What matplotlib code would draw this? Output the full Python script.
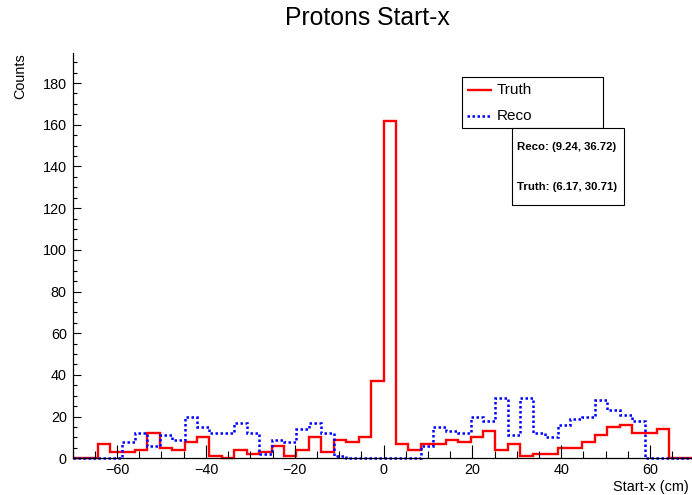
import matplotlib
matplotlib.use("Agg")
import matplotlib.pyplot as plt
import numpy as np
from matplotlib.lines import Line2D
from matplotlib.patches import Rectangle
from matplotlib.ticker import MultipleLocator

plt.rcParams['font.family'] = ['Liberation Sans', 'DejaVu Sans']

# Binning: 50 bins of 2.8 cm between -70 and 70 cm
x_lo, x_hi, n_bins = -70.0, 70.0, 50
edges = np.linspace(x_lo, x_hi, n_bins + 1)

truth_counts = [0, 0, 7, 3, 3, 4, 12, 5, 4, 8, 10, 1, 0, 4, 2, 3, 6, 1, 4, 10, 3, 9, 8, 10, 37,
                162, 7, 4, 7, 7, 9, 8, 10, 13, 4, 7, 1, 2, 2, 5, 5, 8, 11, 15, 16, 12, 12, 14, 0, 0]
reco_counts = [0, 0, 0, 0, 8, 12, 6, 11, 9, 20, 15, 12, 12, 17, 12, 2, 9, 8, 14, 17, 12, 1, 0, 0, 0,
               0, 0, 0, 6, 15, 13, 12, 20, 18, 29, 11, 29, 12, 10, 16, 19, 20, 28, 23, 21, 18, 0, 0, 0, 0]

legend_labels = ['Truth', 'Reco']
stat_lines = ['Reco: (9.24, 36.72)', 'Truth: (6.17, 30.71)']

W, H = 692, 495


def fx(x):
    return x / W


def fy(y):
    return 1 - y / H


fig = plt.figure(figsize=(W / 100, H / 100), dpi=100)
ax = fig.add_axes([72.7 / W, 36.7 / H, 621.6 / W, 405.3 / H])

red_style = dict(color='#ff0000', linewidth=1.7, linestyle='-')
blue_style = dict(color='#0000ff', linewidth=1.8, linestyle=(0, (1, 1)))

ax.stairs(truth_counts, edges, baseline=None, clip_on=False, **red_style)
ax.stairs(reco_counts, edges, baseline=None, clip_on=False, **blue_style)

ax.set_xlim(x_lo, x_hi)
ax.set_ylim(0, 194.4)

for s in ('top', 'right'):
    ax.spines[s].set_visible(False)
for s in ('left', 'bottom'):
    ax.spines[s].set_color('black')
    ax.spines[s].set_linewidth(0.9)

ax.xaxis.set_major_locator(MultipleLocator(20))
ax.xaxis.set_minor_locator(MultipleLocator(5))
ax.yaxis.set_major_locator(MultipleLocator(20))
ax.yaxis.set_minor_locator(MultipleLocator(5))
ax.tick_params(axis='x', which='major', direction='in', length=9.4, width=0.8, labelsize=10.4, pad=3.5)
ax.tick_params(axis='x', which='minor', direction='in', length=4.7, width=0.8)
ax.tick_params(axis='y', which='major', direction='in', length=5.8, width=0.8, labelsize=10.4, pad=4.3)
ax.tick_params(axis='y', which='minor', direction='in', length=3.0, width=0.8)
ax.tick_params(top=False, right=False, which='both')

# Titles
fig.text(fx(367), fy(18), 'Protons Start-x', ha='center', va='center', fontsize=17.8)
fig.text(fx(20), fy(53), 'Counts', rotation=90, ha='center', va='top', fontsize=10.4)
fig.text(fx(689), fy(487), 'Start-x (cm)', ha='right', va='center', fontsize=10.4)

# Legend box
fig.add_artist(Rectangle((fx(461.7), fy(128.3)), (603.3 - 461.7) / W, (128.3 - 76.7) / H,
                         transform=fig.transFigure, facecolor='white', edgecolor='black',
                         linewidth=0.8, zorder=5))
for yy, lab, st in zip([90, 115.7], legend_labels, [red_style, blue_style]):
    fig.add_artist(Line2D([fx(466.7), fx(492.3)], [fy(yy), fy(yy)], transform=fig.transFigure,
                          zorder=6, solid_capstyle='butt', dash_capstyle='butt', **st))
    fig.text(fx(496.7), fy(yy), lab, ha='left', va='center', fontsize=11, zorder=6)

# Statistics box
fig.add_artist(Rectangle((fx(511.7), fy(205)), (624.3 - 511.7) / W, (205 - 128.3) / H,
                         transform=fig.transFigure, facecolor='white', edgecolor='black',
                         linewidth=0.8, zorder=7))
for yy, txt in zip([147.3, 186.7], stat_lines):
    fig.text(fx(567), fy(yy), txt, ha='center', va='center', fontsize=8.2,
             fontweight='bold', zorder=8)

fig.savefig('out.png', dpi=100)
